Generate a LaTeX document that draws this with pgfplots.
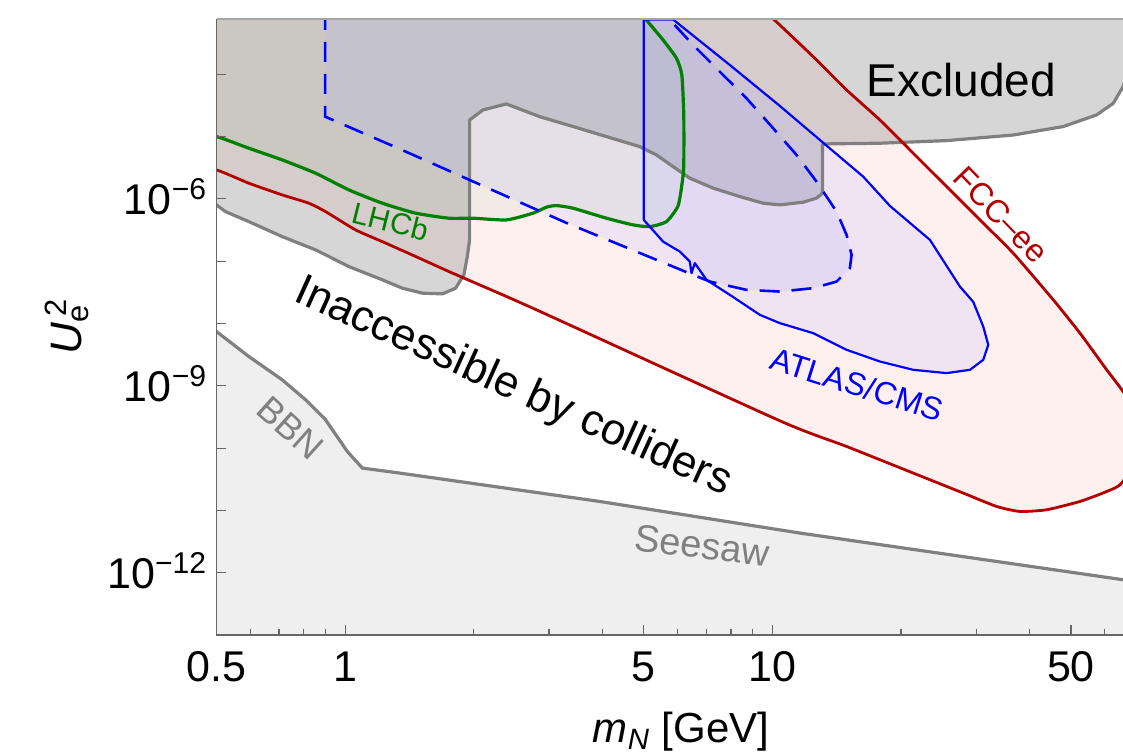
\documentclass[border=0pt]{standalone}
\usepackage{fontspec}
\setmainfont{Liberation Sans}
\usepackage{pgfplots}
\pgfplotsset{compat=1.18}
\usepackage{pgfplotstable}

\definecolor{fccred}{rgb}{0.70,0.0,0.0}
\definecolor{lhcbgreen}{rgb}{0.0,0.5,0.0}
\definecolor{atlasblue}{rgb}{0,0,1}
\definecolor{lav}{rgb}{0.6,0.62,1.0}
\definecolor{exgray}{rgb}{0.5,0.5,0.5}
\definecolor{axgray}{rgb}{0.4,0.4,0.4}
\definecolor{seesawfill}{rgb}{0.937,0.937,0.937}

% Excluded region (upper boundary, gray)
\pgfplotstableread{
x y
0.45 2e-3
0.45 8.01e-7
0.5 8.01e-7
0.5248 6.25e-7
0.5952 4.32e-7
0.7127 2.48e-7
0.8531 1.52e-7
1.0207 8.20e-8
1.2223 5.02e-8
1.3614 3.69e-8
1.5165 3.07e-8
1.6889 2.99e-8
1.8146 3.69e-8
1.8972 6.04e-8
1.9324 1.19e-7
1.9566 2.2e-7
1.9566 1.85e-5
2.1021 2.68e-5
2.385 3.34e-5
2.854 2.09e-5
3.4168 1.45e-5
4.0896 1.00e-5
4.8944 6.90e-6
5.3558 5.08e-6
5.8573 3.30e-6
6.4096 2.15e-6
7.2687 1.49e-6
8.3927 1.09e-6
9.5176 8.53e-7
10.414 8.01e-7
11.806 8.85e-7
12.691 1.03e-6
13.11 1.23e-6
13.11 7.35e-6
13.274 7.63e-6
17.86 7.83e-6
25.586 8.62e-6
36.633 1.06e-5
47.973 1.45e-5
57.437 2.23e-5
62.826 3.43e-5
66.2 6.34e-5
70 2e-4
70 2e-3
}\excluded

% FCC-ee reach
\pgfplotstableread{
x y
0.45 2e-3
0.45 2.92e-6
0.5 2.92e-6
0.5952 1.786e-6
0.7127 1.159e-6
0.8226 8.53e-7
0.9 6.25e-7
1.0583 3.18e-7
1.2223 2.06e-7
1.4627 1.19e-7
1.7503 6.82e-8
2.0215 4.44e-8
2.8036 1.66e-8
10.414 2.744e-10
14.923 1.062e-10
21.368 3.974e-11
27.976 1.898e-11
33.497 1.157e-11
37.978 9.62e-12
43.862 1.024e-11
52.494 1.392e-11
60.63 2.014e-11
66.2 2.914e-11
75 2e-10
66.2 8.096e-10
60.63 1.805e-9
52.494 7.003e-9
45.458 2.397e-8
36.633 1.345e-7
30.614 4.604e-7
25.586 1.575e-6
21.368 5.41e-6
17.86 1.85e-5
14.923 5.608e-5
12.462 1.919e-4
10.414 6.188e-4
9.578 1.077e-3
9.578 2e-3
}\fcc

% LHCb reach
\pgfplotstableread{
x y
0.45 2e-3
0.45 1.0e-5
0.5 1.0e-5
0.5952 6.507e-6
0.7127 4.224e-6
0.8531 2.585e-6
1.0207 1.394e-6
1.2223 8.53e-7
1.4627 5.9e-7
1.7503 4.9e-7
1.9923 4.9e-7
2.385 4.6e-7
2.7536 5.9e-7
2.959 7.36e-7
3.1224 7.81e-7
3.4168 7.09e-7
4.0896 4.9e-7
4.7206 3.83e-7
5.1656 3.59e-7
5.6522 4.32e-7
6.0173 7.72e-7
6.155 1.874e-6
6.205 3.512e-6
6.205 2.227e-5
6.14 9.759e-5
5.9649 1.808e-4
5.5503 3.556e-4
5.075 7.443e-4
4.894 1.077e-3
4.894 2e-3
}\lhcb

% dashed blue (displaced vertex) reach
\pgfplotstableread{
x y
0.8977 1.077e-3
0.8977 2.09e-5
1.3418 6.342e-6
3.296 4.12e-7
6.5244 6.04e-8
7.1393 4.712e-8
8.7012 3.467e-8
10.414 3.256e-8
12.462 3.69e-8
14.14 4.712e-8
15.19 7.731e-8
15.331 1.264e-7
14.923 2.645e-7
14.14 6.25e-7
12.691 1.895e-6
11.394 5.08e-6
10.044 1.362e-5
8.7012 4.126e-5
7.5336 1.102e-4
6.5244 2.956e-4
5.8573 6.588e-4
5.6925 7.58e-4
5.571 1.077e-3
}\dashedreg

% ATLAS/CMS reach
\pgfplotstableread{
x y
5.0 7.58e-4
5.0 4.6e-7
5.5503 2.06e-7
6.0729 1.427e-7
6.4096 9.87e-8
6.469 6.426e-8
6.5848 9.299e-8
7.0139 5.02e-8
7.9524 2.883e-8
9.3478 1.377e-8
10.414 1.013e-8
12.462 7.0e-9
14.923 3.78e-9
17.86 2.453e-9
21.368 1.805e-9
25.586 1.598e-9
29.007 1.805e-9
31.168 2.612e-9
32.019 4.546e-9
31.168 8.937e-9
29.53 2.226e-8
27.484 3.917e-8
23.384 2.199e-7
18.85 7.72e-7
16.319 2.279e-6
12.918 8.843e-6
10.414 3.105e-5
7.9524 1.412e-4
5.8573 7.58e-4
}\atlas

% BBN + Seesaw lower bound
\pgfplotstableread{
x y
0.45 1e-14
0.45 7.43e-9
0.5 7.43e-9
0.5952 2.951e-9
0.7127 1.248e-9
0.8083 5.961e-10
0.9 2.847e-10
0.9936 1.062e-10
1.012 8.828e-11
1.0971 4.78e-11
1.3418 3.974e-11
3.9446 1.392e-11
11.6 4.331e-12
66.2 7.717e-13
75 6.8e-13
75 1e-14
}\seesaw

\begin{document}
\begin{tikzpicture}
\useasboundingbox (-108.25pt,-59pt) rectangle (453.25pt,317.5pt);
\begin{axis}[
  at={(0,0)}, anchor=south west,
  scale only axis, width=453.25pt, height=307.75pt,
  xmode=log, ymode=log,
  xmin=0.5, xmax=66.2, ymin=1e-13, ymax=7.58e-4,
  axis x line*=bottom, axis y line*=left,
  axis on top,
  axis line style={axgray, line width=0.7pt},
  tick align=inside,
  xtick={0.5,1,5,10,50}, xticklabels={0.5,1,5,10,50},
  minor xtick={0.6,0.7,0.8,0.9,2,3,4,6,7,8,9,20,30,40,60},
  ytick={1e-12,1e-11,1e-10,1e-9,1e-8,1e-7,1e-6,1e-5,1e-4},
  yticklabels={10\textsuperscript{−12},{},{},10\textsuperscript{−9},{},{},10\textsuperscript{−6},{},{}},
  yminorticks=false,
  major tick length=5pt, minor tick length=3pt,
  tick style={axgray, line width=0.6pt},
  ticklabel style={font=\fontsize{21.5}{24}\selectfont, inner sep=0pt},
  xticklabel style={anchor=base, yshift=-23.3pt},
  yticklabel style={anchor=base east, xshift=-4.5pt, yshift=-7.7pt},
]
% fills
\addplot[draw=none, fill=seesawfill] table {\seesaw} -- cycle;
\addplot[draw=none, fill=red, fill opacity=0.058, smooth, tension=0.35] table {\fcc} -- cycle;
\addplot[draw=none, fill=exgray, fill opacity=0.32] table {\excluded} -- cycle;
\addplot[draw=none, fill=lhcbgreen, fill opacity=0.05, smooth, tension=0.35] table {\lhcb} -- cycle;
\addplot[draw=none, fill=lav, fill opacity=0.14] table {\dashedreg} -- cycle;
\addplot[draw=none, fill=lav, fill opacity=0.15] table {\atlas} -- cycle;
% lines
\addplot[exgray, line width=1.6pt] table {\seesaw};
\addplot[exgray, line width=1.6pt, line join=round] table {\excluded};
\addplot[fccred, line width=1.4pt, line join=round, smooth, tension=0.35] table {\fcc};
\addplot[lhcbgreen, line width=1.6pt, line join=round, smooth, tension=0.35] table {\lhcb};
\addplot[atlasblue, line width=1.3pt, dash pattern=on 10pt off 6pt] table {\dashedreg};
\addplot[atlasblue, line width=1.1pt, line join=round] table {\atlas} -- cycle;
% labels
\node[font=\fontsize{23}{26}\selectfont] at (axis cs:27.71,7.963e-5) {Excluded};
\node[rotate=-24.3, font=\fontsize{22}{25}\selectfont] at (axis cs:2.47,9.29e-10) {Inaccessible by colliders};
\node[rotate=-14, text=lhcbgreen, font=\fontsize{15}{18}\selectfont] at (axis cs:1.278,4.35e-7) {LHCb};
\node[rotate=-17.5, text=atlasblue, font=\fontsize{16}{19}\selectfont] at (axis cs:15.78,1.05e-9) {ATLAS/CMS};
\node[rotate=-46, text=fccred, font=\fontsize{16}{19}\selectfont] at (axis cs:34.29,5.537e-7) {FCC–ee};
\node[rotate=-42, text=exgray, font=\fontsize{18}{21}\selectfont] at (axis cs:0.7452,2.118e-10) {BBN};
\node[rotate=-7, text=exgray, font=\fontsize{19}{22}\selectfont] at (axis cs:6.85,2.75e-12) {Seesaw};
\end{axis}
\draw[black!35, line width=1pt] (0,307.75pt) -- (453.25pt,307.75pt);
\node[anchor=base, font=\fontsize{21}{24}\selectfont] at (232.25pt,-54pt) {\textit{m}\textsubscript{\textit{N}} [GeV]};
\node[anchor=base, rotate=90, font=\fontsize{22}{25}\selectfont] at (-67.25pt,154.25pt) {\textit{U}\rlap{\textsubscript{e}}\textsuperscript{\,2}};
\end{tikzpicture}
\end{document}
